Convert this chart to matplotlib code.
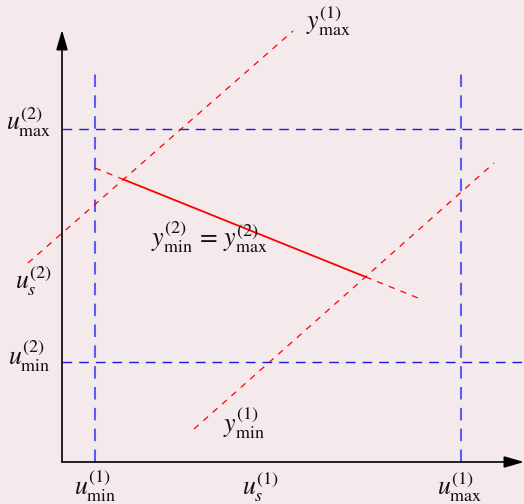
import matplotlib
matplotlib.use("Agg")
import matplotlib.pyplot as plt
import numpy as np

plt.rcParams["mathtext.fontset"] = "stix"
plt.rcParams["font.family"] = "STIXGeneral"

# Bounds on the two control inputs (axis units)
u1_bounds = [33, 399]      # u_min^(1), u_max^(1)
u2_bounds = [100, 333]     # u_min^(2), u_max^(2)

# Constraint lines: endpoints of the sloped lines
ymax1_line = [(-34, 199), (231, 431)]
ymin1_line = [(132, 33), (432, 299)]
y2_line = [(33, 294), (361, 162)]

# Label texts and their anchors
labels = {
    "umax2": (r"$u_{\max}^{(2)}$", (-33, 340)),
    "us2": (r"$u_{s}^{(2)}$", (-28, 181)),
    "umin2": (r"$u_{\min}^{(2)}$", (-33, 106)),
    "umin1": (r"$u_{\min}^{(1)}$", (33, -24.5)),
    "us1": (r"$u_{s}^{(1)}$", (199, -25)),
    "umax1": (r"$u_{\max}^{(1)}$", (398, -25.5)),
    "ymin1": (r"$y_{\min}^{(1)}$", (182, 39)),
    "ymax1": (r"$y_{\max}^{(1)}$", (266, 441)),
    "y2": (r"$y_{\min}^{(2)}\,=\,y_{\max}^{(2)}$", (147, 225)),
}

bg = "#f4eaeb"
fig = plt.figure(figsize=(5.24, 5.04), dpi=100, facecolor=bg)
ax = fig.add_axes([0, 0, 1, 1])
ax.set_facecolor(bg)
ax.set_xlim(-62, 462)
ax.set_ylim(-42, 462)
ax.axis("off")

# Coordinate axes with arrowheads
ax.annotate("", xy=(462, 0), xytext=(0, 0),
            arrowprops=dict(arrowstyle="-|>,head_length=1.2,head_width=0.35",
                            color="black", lw=1.2, shrinkA=0, shrinkB=0))
ax.annotate("", xy=(0, 432), xytext=(0, 0),
            arrowprops=dict(arrowstyle="-|>,head_length=1.2,head_width=0.35",
                            color="black", lw=1.2, shrinkA=0, shrinkB=0))

# Input bounds
for u in u1_bounds:
    ax.plot([u, u], [0, 392], color="#5c5cf2", lw=1.5, dashes=(6, 4))
for u in u2_bounds:
    ax.plot([0, 462], [u, u], color="#1a1ae0", lw=1.0, dashes=(7, 5))

# Output-1 constraint lines
for (p, q) in (ymax1_line, ymin1_line):
    ax.plot([p[0], q[0]], [p[1], q[1]], color="red", lw=0.9, dashes=(5, 5))

# Output-2 line: dashed outside the feasible band, solid inside
def line_coef(seg):
    (x0, y0), (x1, y1) = seg
    m = (y1 - y0) / (x1 - x0)
    return m, y0 - m * x0

m2, b2 = line_coef(y2_line)
ma, ba = line_coef(ymax1_line)
mb, bb = line_coef(ymin1_line)
xa = (ba - b2) / (m2 - ma)
xb = (bb - b2) / (m2 - mb)
(x_s, _), (x_e, _) = y2_line
ax.plot([x_s, xa], [m2 * x_s + b2, m2 * xa + b2], color="red", lw=0.9, dashes=(5, 5))
ax.plot([xa, xb], [m2 * xa + b2, m2 * xb + b2], color="red", lw=1.3)
ax.plot([xb, x_e], [m2 * xb + b2, m2 * x_e + b2], color="red", lw=0.9, dashes=(5, 5))

for key, (txt, (x, y)) in labels.items():
    ax.text(x, y, txt, fontsize=18.5, ha="center", va="center", color="#111111")

fig.savefig("out.png", dpi=100, facecolor=bg)
